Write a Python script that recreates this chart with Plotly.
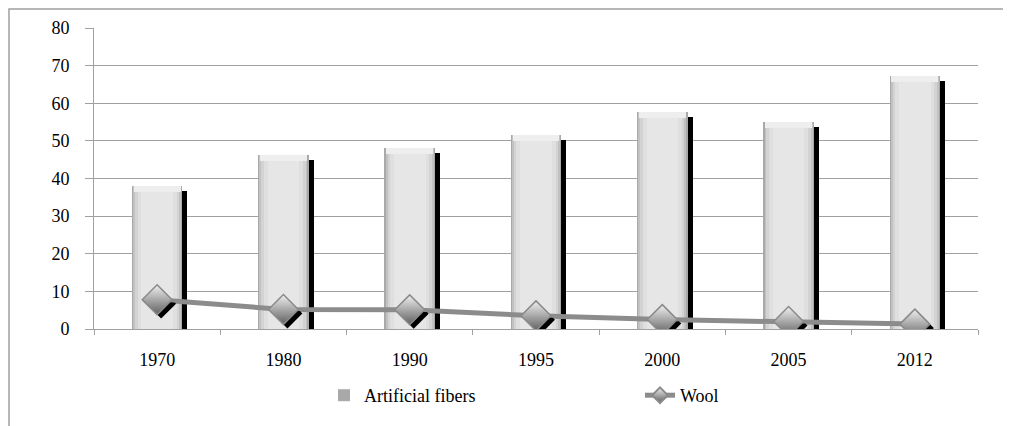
import plotly.graph_objects as go

years = ["1970", "1980", "1990", "1995", "2000", "2005", "2012"]
artificial = [38, 46.3, 48, 51.5, 57.7, 55, 67.3]
wool = [7.8, 5.2, 5.1, 3.5, 2.5, 2.0, 1.3]

OFF = 8                      # page body margin
W, H = 1011 - OFF, 426 - OFF
ML, MR, MT, MB = 94 - OFF, 33, 28 - OFF, 97
PW, PH = W - ML - MR, H - MT - MB
YMAX = 80
px_x = PW / len(years)      # pixels per category
px_y = PH / YMAX            # pixels per unit

x = list(range(len(years)))
fig = go.Figure()

# bar shadow (black strip to the right, slightly lower)
fig.add_trace(go.Bar(x=x, y=[v - 5 / px_y for v in artificial], width=5 / px_x,
                     offset=0.2, marker=dict(color="black", line=dict(width=0)),
                     showlegend=False, hoverinfo="skip"))
# layered bars to imitate a cylindrical gradient
layers = [(0.40, "#a9a9a9"), (0.38, "#c2c2c2"), (0.35, "#d3d3d3"), (0.31, "#dfdfdf"), (0.25, "#e6e6e6")]
for i, (wd, col) in enumerate(layers):
    fig.add_trace(go.Bar(x=x, y=artificial, width=wd,
                         marker=dict(color=col, line=dict(width=0)),
                         name="Artificial fibers", showlegend=(i == 0),
                         hoverinfo="skip" if i else None))
# top bevel
fig.add_trace(go.Bar(x=x, y=[6 / px_y] * len(x), base=[v - 6 / px_y for v in artificial],
                     width=0.37, marker=dict(color="#eeeeee", line=dict(width=0)),
                     showlegend=False, hoverinfo="skip"))

# wool line
fig.add_trace(go.Scatter(x=x, y=wool, mode="lines", line=dict(color="#8c8c8c", width=5),
                         showlegend=False, hoverinfo="skip"))
# diamond shadow
fig.add_trace(go.Scatter(x=[v + 4 / px_x for v in x], y=[v - 4 / px_y for v in wool], mode="markers",
                         marker=dict(symbol="diamond", size=23, color="black", line=dict(width=0)),
                         showlegend=False, hoverinfo="skip"))
fig.add_trace(go.Scatter(x=x, y=wool, mode="lines+markers", name="Wool",
                         line=dict(color="#8c8c8c", width=3),
                         marker=dict(symbol="diamond", size=23, color="#f0f0f0",
                                     gradient=dict(type="vertical", color="#606060"),
                                     line=dict(color="#8a8a8a", width=1.5))))

fig.update_layout(
    width=W, height=H, barmode="overlay", bargap=0,
    margin=dict(l=ML, r=MR, t=MT, b=MB, autoexpand=False),
    paper_bgcolor="white", plot_bgcolor="white",
    font=dict(family="Liberation Serif", size=18, color="black"),
    legend=dict(orientation="h", xref="container", yref="container",
                x=316 / W, xanchor="left", y=1 - 369 / H, yanchor="top",
                entrywidth=271, itemsizing="constant", font=dict(size=18),
                traceorder="normal"),
    xaxis=dict(range=[-0.5, len(years) - 0.5], tickvals=x, ticktext=years,
               ticks="", showgrid=False, showline=True, linecolor="#a0a0a0", linewidth=1,
               zeroline=False, ticklabelstandoff=14,
               minor=dict(tick0=-0.5, dtick=1, ticks="outside", ticklen=5,
                          tickcolor="#a0a0a0", showgrid=False)),
    yaxis=dict(range=[0, YMAX], dtick=10, ticks="outside", ticklen=8, tickcolor="#a0a0a0",
               showgrid=True, gridcolor="#a0a0a0", gridwidth=1,
               showline=True, linecolor="#a0a0a0", linewidth=1, zeroline=False,
               ticklabelstandoff=12),
    shapes=[dict(type="rect", xref="paper", yref="paper",
                 x0=(1 - ML) / PW, x1=(W + 100 - ML) / PW,
                 y0=(MT + PH - (H + 100)) / PH, y1=(MT + PH - 1) / PH,
                 line=dict(color="#a0a0a0", width=1.5), layer="below")],
)
fig.write_html("out.html")
